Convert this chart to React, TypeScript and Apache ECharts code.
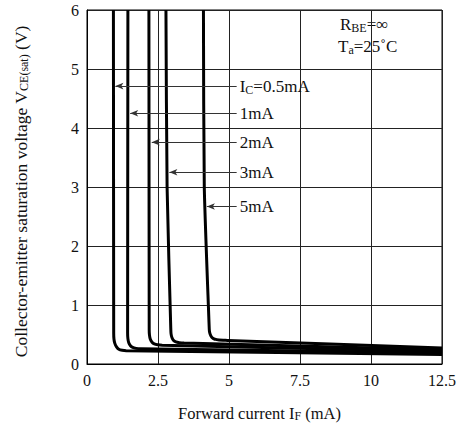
import React, { useEffect, useRef } from "react";
import * as echarts from "echarts";

// Curve data: forward current IF (mA) vs VCE(sat) (V)
const ic05X = [0.93, 0.94, 0.95, 0.98, 1.04, 1.12, 1.24, 1.38, 12.5];
const ic05Y = [6, 0.52, 0.42, 0.35, 0.29, 0.25, 0.232, 0.225, 0.16];
const ic1X = [1.44, 1.43, 1.44, 1.47, 1.53, 1.61, 1.73, 1.88, 12.5];
const ic1Y = [6, 0.52, 0.43, 0.36, 0.31, 0.28, 0.265, 0.258, 0.19];
const ic2X = [2.18, 2.19, 2.2, 2.23, 2.29, 2.37, 2.49, 2.65, 12.5];
const ic2Y = [6, 0.58, 0.49, 0.42, 0.37, 0.34, 0.325, 0.318, 0.215];
const ic3X = [2.78, 2.82, 2.95, 2.96, 2.99, 3.05, 3.13, 3.25, 3.42, 12.5];
const ic3Y = [6, 3, 0.6, 0.51, 0.45, 0.4, 0.375, 0.362, 0.355, 0.24];
const ic5X = [4.1, 4.13, 4.3, 4.31, 4.34, 4.4, 4.5, 4.65, 4.95, 12.5];
const ic5Y = [6, 3, 0.65, 0.56, 0.5, 0.45, 0.42, 0.405, 0.4, 0.27];

const curves = [
  { name: "0.5mA", x: ic05X, y: ic05Y },
  { name: "1mA", x: ic1X, y: ic1Y },
  { name: "2mA", x: ic2X, y: ic2Y },
  { name: "3mA", x: ic3X, y: ic3Y },
  { name: "5mA", x: ic5X, y: ic5Y },
];

// Annotation arrows
const arrowLabels = ["I{sub|C}=0.5mA", "1mA", "2mA", "3mA", "5mA"];
const arrowY = [4.71, 4.25, 3.76, 3.25, 2.67];
const arrowTipX = [1.0, 1.52, 2.28, 2.9, 4.22];
const arrowTailX = [5.27, 5.27, 5.27, 5.27, 5.27];

// Axis ranges
const xMin = 0;
const xMax = 12.5;
const xStep = 2.5;
const yMin = 0;
const yMax = 6;
const yStep = 1;

const FONT = "'Liberation Serif', 'DejaVu Serif', serif";

export default function App() {
  const ref = useRef<HTMLDivElement>(null);

  useEffect(() => {
    if (!ref.current) return;
    const chart = echarts.init(ref.current, undefined, { renderer: "svg" });
    const subRich = {
      sub: { fontSize: 12, fontFamily: FONT, color: "#111", padding: [7, 0, 0, 0] },
    };
    const subRichAxis = {
      sub: { fontSize: 12, fontFamily: FONT, color: "#111", padding: [6, 0, 0, 0] },
    };

    const series: any[] = curves.map((c, i) => ({
      type: "line",
      name: c.name,
      data: c.x.map((xv, k) => [xv, c.y[k]]),
      showSymbol: false,
      smooth: 0.2,
      lineStyle: { color: "#000", width: 3 },
      z: 3,
      ...(i === 0
        ? {
            markLine: {
              silent: true,
              symbol: ["arrow", "none"],
              symbolSize: [5, 8],
              lineStyle: { color: "#333", width: 1, type: "solid" },
              label: {
                show: true,
                position: "end",
                distance: 3,
                fontFamily: FONT,
                fontSize: 17,
                color: "#111",
                formatter: (p: any) => arrowLabels[p.dataIndex],
                rich: subRich,
              },
              data: arrowY.map((yv, k) => [
                { coord: [arrowTipX[k], yv] },
                { coord: [arrowTailX[k], yv] },
              ]),
            },
          }
        : {}),
    }));

    chart.setOption({
      animation: false,
      grid: {
        left: 87,
        right: 22,
        top: 10,
        bottom: 62,
        show: true,
        borderColor: "#000",
        borderWidth: 1,
      },
      xAxis: {
        type: "value",
        min: xMin,
        max: xMax,
        interval: xStep,
        name: "Forward current I{sub|F} (mA)",
        nameLocation: "middle",
        nameGap: 40,
        nameTextStyle: {
          fontFamily: FONT,
          fontSize: 16.5,
          color: "#111",
          rich: subRichAxis,
          padding: [0, 10, 0, 0],
        },
        axisLine: { lineStyle: { color: "#000", width: 1 } },
        axisTick: { show: false },
        axisLabel: {
          fontFamily: FONT,
          fontSize: 16,
          color: "#111",
          margin: 8,
          formatter: (v: number) => String(v),
        },
        splitLine: { show: true, lineStyle: { color: "#222", width: 1 } },
      },
      yAxis: {
        type: "value",
        min: yMin,
        max: yMax,
        interval: yStep,
        name: "Collector-emitter saturation voltage V{sub|CE(sat)} (V)",
        nameLocation: "middle",
        nameGap: 57,
        nameTextStyle: {
          fontFamily: FONT,
          fontSize: 17.5,
          color: "#111",
          rich: subRichAxis,
          padding: [0, 9, 0, 0],
        },
        axisLine: { show: true, lineStyle: { color: "#000", width: 1 } },
        axisTick: { show: false },
        axisLabel: {
          fontFamily: FONT,
          fontSize: 16,
          color: "#111",
          margin: 8,
        },
        splitLine: { show: true, lineStyle: { color: "#222", width: 1 } },
      },
      graphic: [
        {
          type: "text",
          left: 340,
          top: 16,
          style: {
            text: "R{sub|BE}=∞",
            font: `17px ${FONT}`,
            fill: "#111",
            rich: subRich,
          },
        },
        {
          type: "text",
          left: 338,
          top: 38,
          style: {
            text: "T{sub|a}=25˚C",
            font: `17px ${FONT}`,
            fill: "#111",
            rich: subRich,
          },
        },
      ],
      series,
    });

    return () => chart.dispose();
  }, []);

  return <div ref={ref} style={{ width: 464, height: 427, position: "absolute", left: 0, top: 0 }} />;
}
